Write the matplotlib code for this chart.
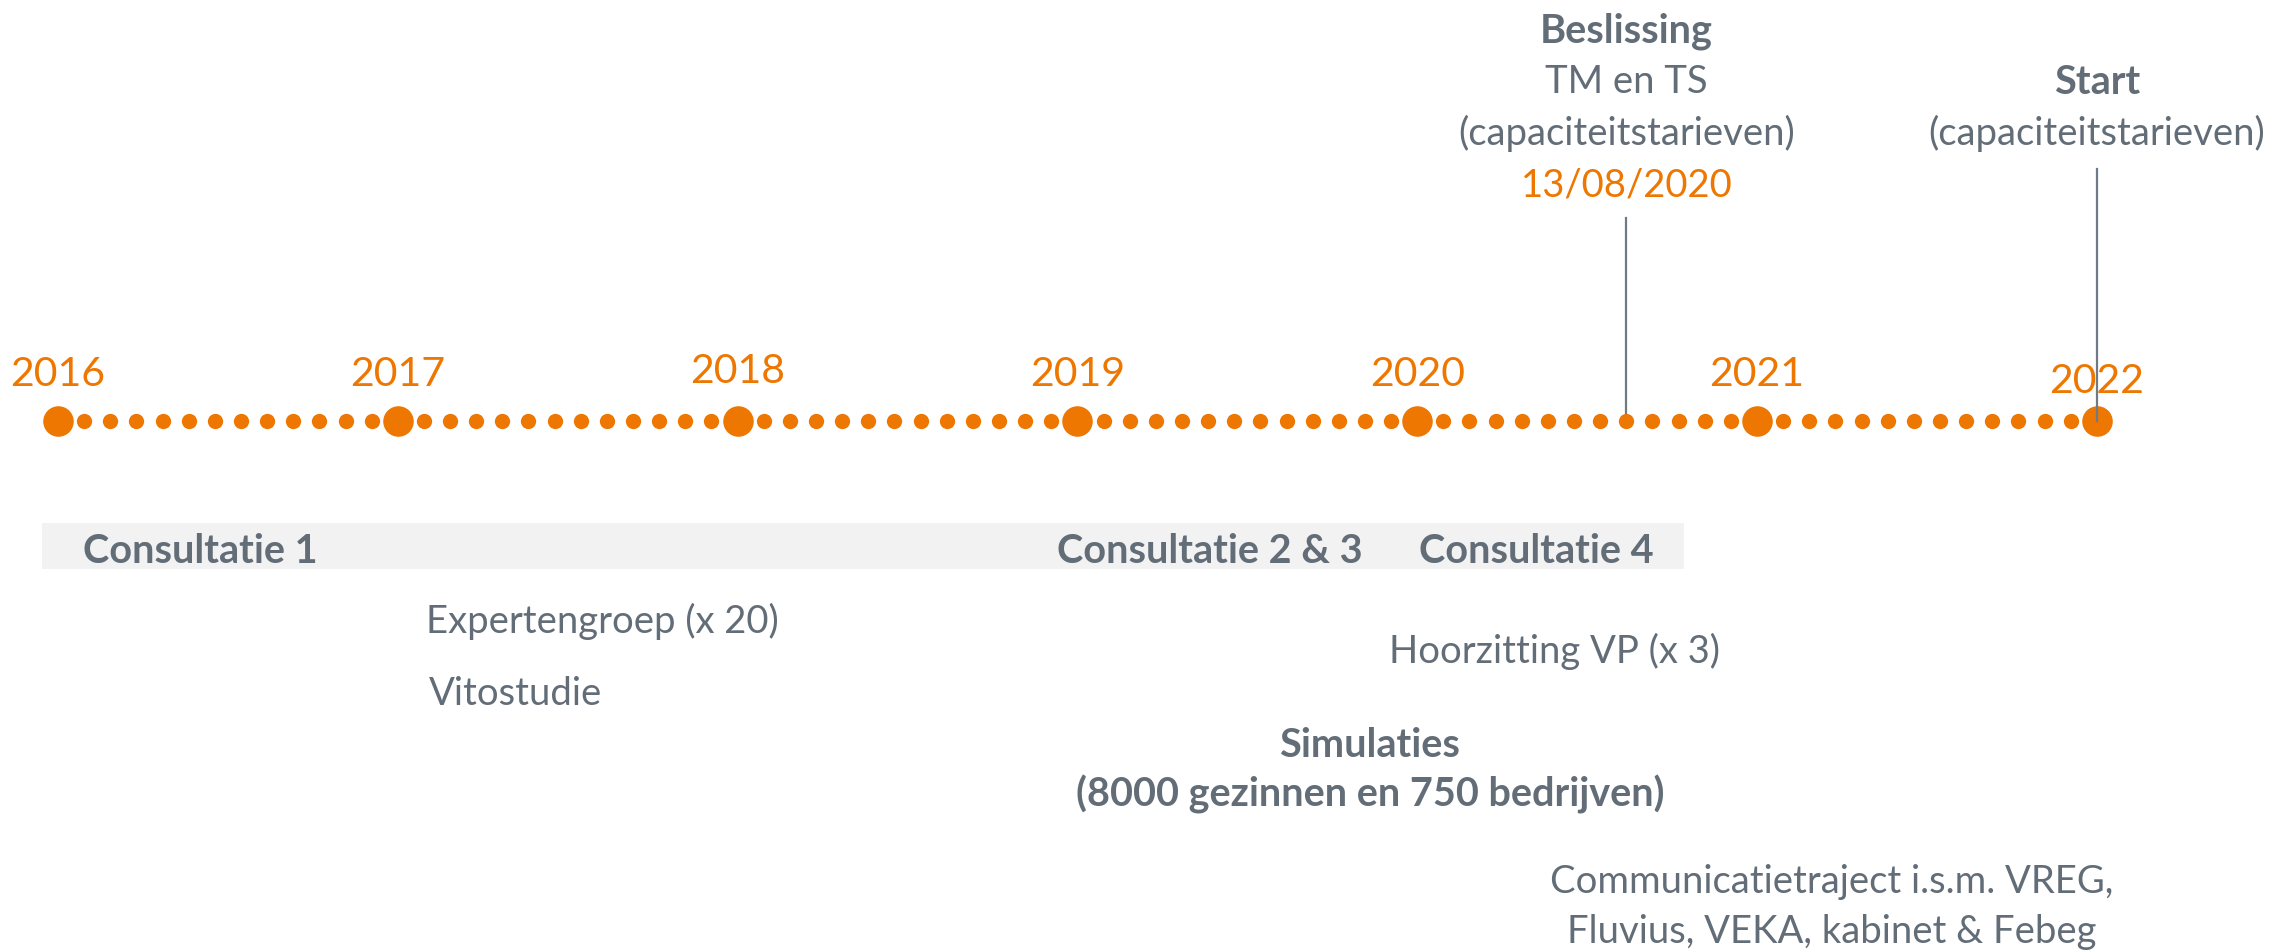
import numpy as np
import matplotlib
matplotlib.use("Agg")
import matplotlib.pyplot as plt
from matplotlib.patches import Rectangle

# =========================================================
# DATA
# =========================================================
YEARS = [2016, 2017, 2018, 2019, 2020, 2021, 2022]
SUB_DOTS = 12                      # small dots between two years

DECISION_DATE = 2020 + 8 / 13      # 13/08/2020
START_DATE = 2022.0

CONSULT_SPAN = (2015.953, 2020.785)
CONSULT_LABELS = ["Consultatie 1", "Consultatie 2 & 3", "Consultatie 4"]
CONSULT_STARTS = [2016.074, 2018.940, 2020.005]

DECISION_LINES = ["TM en TS", "(capaciteitstarieven)"]
DECISION_TEXT = "13/08/2020"
START_LINES = ["(capaciteitstarieven)"]

# =========================================================
# STYLE
# =========================================================
ORANGE = "#ED7700"
GREY = "#626D78"
LINE_GREY = "#6F7A84"
BAND = "#F2F2F2"
BODY = 27.5
BOLD = 28.5
plt.rcParams['font.family'] = ['Lato', 'DejaVu Sans']

W, H = 2277, 951
fig = plt.figure(figsize=(W / 100, H / 100), dpi=100)
ax = fig.add_axes([0, 0, 1, 1])
ax.set_xlim(2016 - 58 / 339.8, 2016 + (W - 58) / 339.8)
ax.set_ylim(H, 0)
ax.axis("off")

# =========================================================
# TIMELINE
# =========================================================
y_line = 421
small = []
for a, b in zip(YEARS[:-1], YEARS[1:]):
    small.extend(np.linspace(a, b, SUB_DOTS + 2)[1:-1])
ax.plot(small, [y_line] * len(small), "o", color=ORANGE, ms=11, mew=0)
ax.plot(YEARS, [y_line] * len(YEARS), "o", color=ORANGE, ms=22, mew=0)

label_base = [386, 386, 383, 386, 386, 386, 393]
for yr, yb in zip(YEARS, label_base):
    ax.text(yr, yb, str(yr), color=ORANGE, fontsize=29.5,
            ha="center", va="baseline")

# vertical markers
ax.plot([DECISION_DATE, DECISION_DATE], [218, 413], color=LINE_GREY, lw=1.6)
ax.plot([START_DATE, START_DATE], [169, 421], color=LINE_GREY, lw=1.6)

ax.text(DECISION_DATE, 43, "Beslissing", color=GREY, fontsize=BOLD,
        fontweight="bold", ha="center", va="baseline")
for line, yb in zip(DECISION_LINES, [93, 145]):
    ax.text(DECISION_DATE, yb, line, color=GREY, fontsize=BODY,
            ha="center", va="baseline")
ax.text(DECISION_DATE, 197, DECISION_TEXT, color=ORANGE, fontsize=BODY,
        ha="center", va="baseline")

ax.text(START_DATE, 94, "Start", color=GREY, fontsize=BOLD,
        fontweight="bold", ha="center", va="baseline")
for line, yb in zip(START_LINES, [145]):
    ax.text(START_DATE, yb, line, color=GREY, fontsize=BODY,
            ha="center", va="baseline")

# =========================================================
# CONSULTATION BAND
# =========================================================
ax.add_patch(Rectangle((CONSULT_SPAN[0], 523), CONSULT_SPAN[1] - CONSULT_SPAN[0],
                       46, facecolor=BAND, edgecolor="none", zorder=0))
for lab, x0 in zip(CONSULT_LABELS, CONSULT_STARTS):
    ax.text(x0, 563, lab, color=GREY, fontsize=BOLD, fontweight="bold",
            ha="left", va="baseline")

# =========================================================
# OTHER ACTIVITIES
# =========================================================
ax.text(2017.083, 633, "Expertengroep (x 20)", color=GREY, fontsize=BODY,
        ha="left", va="baseline")
ax.text(2017.092, 705, "Vitostudie", color=GREY, fontsize=BODY,
        ha="left", va="baseline")
ax.text(2019.917, 663, "Hoorzitting VP (x 3)", color=GREY, fontsize=BODY,
        ha="left", va="baseline")
ax.text(2019.861, 757, "Simulaties", color=GREY, fontsize=BOLD,
        fontweight="bold", ha="center", va="baseline")
ax.text(2019.861, 807, "(8000 gezinnen en 750 bedrijven)", color=GREY,
        fontsize=BOLD, fontweight="bold", ha="center", va="baseline")
ax.text(2021.221, 893, "Communicatietraject i.s.m. VREG,", color=GREY,
        fontsize=BODY, ha="center", va="baseline")
ax.text(2021.221, 943, "Fluvius, VEKA, kabinet & Febeg", color=GREY,
        fontsize=BODY, ha="center", va="baseline")

fig.savefig("out.png", dpi=100, facecolor="white")
